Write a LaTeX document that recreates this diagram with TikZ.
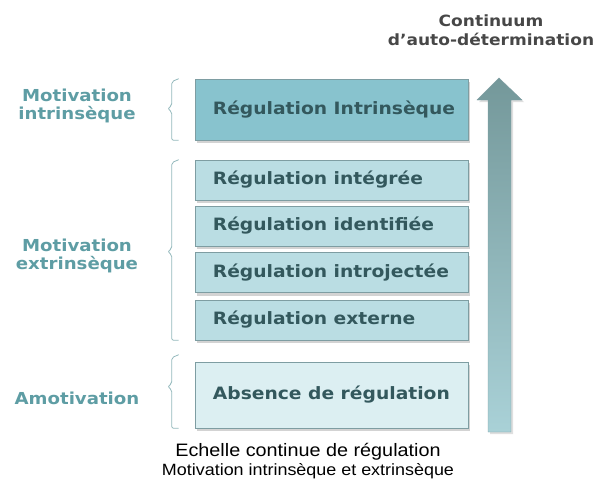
\documentclass[tikz,border=0pt]{standalone}
\usepackage{fontspec}
\setmainfont{DejaVu Sans}
\newfontfamily\boxfont[FakeStretch=1.1]{DejaVu Sans}
\newfontfamily\captionfont[FakeStretch=1.1]{Liberation Sans}
\usetikzlibrary{shadows,positioning}

\definecolor{tealdark}{HTML}{33585D}
\definecolor{teallabel}{HTML}{5E9DA4}
\definecolor{boxtop}{HTML}{88C3CE}
\definecolor{boxmid}{HTML}{BADDE3}
\definecolor{boxlow}{HTML}{DCEFF2}
\definecolor{boxline}{HTML}{7E9DA2}
\definecolor{arrowtop}{HTML}{74989A}
\definecolor{arrowlow}{HTML}{A9D1D7}
\definecolor{bracecol}{HTML}{93B8BC}

\begin{document}
\begin{tikzpicture}[x=1pt, y=-1pt,
    regbox/.style={rectangle, draw=boxline, semithick, minimum width=273pt, drop shadow={shadow xshift=2pt, shadow yshift=-3pt, opacity=0.35}},
    regtext/.style={inner sep=0pt, font=\boxfont\fontsize{17}{19}\bfseries, text=tealdark},
    motiv/.style={align=center, font=\boxfont\fontsize{16.5}{18}\bfseries, text=teallabel},
    bracket/.style={draw=bracecol, thick, rounded corners=2pt}
]
\useasboundingbox (0,0) rectangle (603,483);

% echelle de regulation
\node[regbox, fill=boxtop, minimum height=61pt] (intr)  at (331.5,109.5) {};
\node[regbox, fill=boxmid, minimum height=40pt] (integ) at (331.5,180)   {};
\node[regbox, fill=boxmid, minimum height=40pt] (ident) at (331.5,226)   {};
\node[regbox, fill=boxmid, minimum height=40pt] (intro) at (331.5,272.5) {};
\node[regbox, fill=boxmid, minimum height=40pt] (ext)   at (331.5,320)   {};
\node[regbox, fill=boxlow, minimum height=66pt] (abs)   at (331.5,395)   {};
\node[regtext, right=18pt of intr.west]  (intr-t)  {Régulation Intrinsèque};
\node[regtext, right=18pt of integ.west] (integ-t) {Régulation intégrée};
\node[regtext, right=18pt of ident.west] (ident-t) {Régulation identifiée};
\node[regtext, right=18pt of intro.west] (intro-t) {Régulation introjectée};
\node[regtext, right=18pt of ext.west]   (ext-t)   {Régulation externe};
\node[regtext, right=18pt of abs.west]   (abs-t)   {Absence de régulation};

% types de motivation
\node[motiv] (mintr) at (77,106)  {Motivation\\intrinsèque};
\node[motiv] (mextr) at (77,256)  {Motivation\\extrinsèque};
\node[motiv] (amot)  at (77,398)  {Amotivation};

% accolades
\draw[bracket] ([xshift=-16pt]intr.north west) -- ++(-7,3) -- ++(0,24) -- ++(-4,3) -- ++(4,3) |- ([xshift=-16pt]intr.south west);
\draw[bracket] ([xshift=-16pt]integ.north west) -- ++(-7,3) -- ++(0,86) -- ++(-4,3) -- ++(4,3) |- ([xshift=-16pt]ext.south west);
\draw[bracket] ([xshift=-16pt,yshift=7pt]abs.north west) -- ++(-7,3) -- ++(0,26) -- ++(-4,3) -- ++(4,3) |- ([xshift=-16pt]abs.south west);

% fleche du continuum
\coordinate (tip) at (499,78);
\coordinate (foot) at (499,432);
\shade[top color=arrowtop, bottom color=arrowlow, draw=boxline, drop shadow={shadow xshift=2pt, shadow yshift=-2pt, opacity=0.25}]
    (foot) ++(-11,0) -- ++(0,-332) -- ++(-11,0) -- (tip) -- ++(23,22) -- ++(-11,0) -- ++(0,332) -- cycle;
\node[font=\boxfont\fontsize{15.5}{19}\bfseries, text=black!72, align=center] (cont) at (491,30) {Continuum\\d’auto-détermination};

% legende
\node[font=\captionfont\fontsize{18}{19}\selectfont, align=center] (legend) at (308,461) {Echelle continue de régulation\\{\fontsize{16.3}{18}\selectfont Motivation intrinsèque et extrinsèque}};
\end{tikzpicture}
\end{document}
